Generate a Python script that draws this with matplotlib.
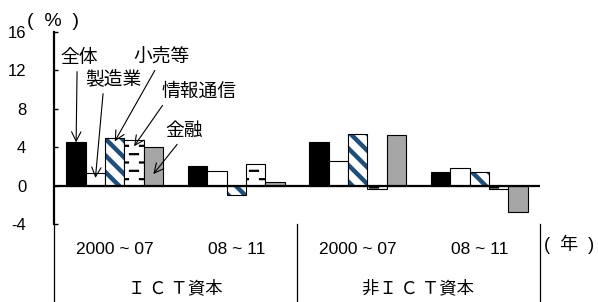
import numpy as np
import matplotlib
matplotlib.use("Agg")
import matplotlib.pyplot as plt
from matplotlib import hatch as mhatch
from matplotlib.path import Path
from matplotlib.transforms import blended_transform_factory

# ==========================================
# data
# ==========================================
periods = ["2000～07", "08～11", "2000～07", "08～11"]
groups = ["Ｉ Ｃ Ｔ資本", "非Ｉ Ｃ Ｔ資本"]
series = ["全体", "製造業", "小売等", "情報通信", "金融"]

zentai = [4.5, 2.0, 4.5, 1.4]
seizo = [1.3, 1.55, 2.6, 1.8]
kouri = [5.0, -0.95, 5.4, 1.4]
johotsushin = [4.75, 2.3, -0.4, -0.4]
kinyu = [4.0, 0.35, 5.25, -2.7]

yticks = [-4, 0, 4, 8, 12, 16]

# where each label's arrow ends (on the first group)
arrow_tip = [4.5, 0.8, 4.6, 4.1, 1.2]
# ==========================================


# short staggered dashes, used in place of the plain "-" hatch
class DashHatch(mhatch.HatchPatternBase):
    rows = 12
    per_row = 5

    def __init__(self, hatch, density):
        n = hatch.count("-")
        self.num_vertices = 2 * self.rows * self.per_row if n else 0

    def set_vertices_and_codes(self, vertices, codes):
        k = 0
        step = 1.0 / self.per_row
        for r in range(self.rows):
            y = (r + 0.5) / self.rows
            off = 0.5 * step * (r % 2)
            for c in range(self.per_row):
                x0 = c * step + off
                vertices[k] = (x0, y)
                vertices[k + 1] = (x0 + 0.4 * step, y)
                codes[k] = Path.MOVETO
                codes[k + 1] = Path.LINETO
                k += 2


mhatch._hatch_types = [DashHatch if t is mhatch.HorizontalHatch else t
                       for t in mhatch._hatch_types]

plt.rcParams["font.family"] = ["Liberation Sans", "Noto Sans CJK JP", "DejaVu Sans"]
jp = ["Noto Sans CJK JP", "DejaVu Sans"]

fig = plt.figure(figsize=(5.98, 3.02), dpi=100)
ax = fig.add_axes([54 / 598, 78 / 302, 486 / 598, 192 / 302])

x = np.arange(len(periods)) + 0.5
w = 0.159
navy = "#1f4e79"

ax.bar(x - 2 * w, zentai, w, color="black", edgecolor="black", lw=0.8)
ax.bar(x - w, seizo, w, color="white", edgecolor="black", lw=0.8)
with plt.rc_context({"hatch.linewidth": 3.2}):
    ax.bar(x, kouri, w, color="white", edgecolor=navy, hatch="\\\\", lw=0)
ax.bar(x, kouri, w, fill=False, edgecolor="black", lw=0.8)
with plt.rc_context({"hatch.linewidth": 1.6}):
    ax.bar(x + w, johotsushin, w, color="white", edgecolor="black", hatch="-", lw=0.8)
ax.bar(x + 2 * w, kinyu, w, color="#a6a6a6", edgecolor="black", lw=0.8)

ax.axhline(0, color="black", lw=1.6, zorder=5)

ax.set_xlim(0, len(periods))
ax.set_ylim(-4, 16)
ax.set_yticks(yticks)
ax.set_yticklabels([str(t) for t in yticks], fontsize=12)
ax.tick_params(axis="y", direction="in", length=3, width=1, pad=20)
ax.set_xticks([])
for s in ["top", "right", "bottom"]:
    ax.spines[s].set_visible(False)
ax.spines["left"].set_linewidth(1.6)

# divider lines and category labels below the plot
tr = blended_transform_factory(ax.transData, ax.transAxes)
for xd in [0, 2, 4]:
    ax.plot([xd, xd], [0, -0.41], transform=tr, color="black", lw=0.9, clip_on=False)
for xi, p in zip(x, periods):
    ax.text(xi, -0.135, p.replace("～", " ~ "), transform=tr, ha="center", va="center", fontsize=12.5)
for i, g in enumerate(groups):
    ax.text(2 * i + 1, -0.335, g, transform=tr,
            ha="center", va="center", fontsize=12.5, family=jp)

fig.text(53 / 598, 1 - 22 / 302, "(  %  )", ha="center", va="center", fontsize=14)
fig.text(569 / 598, 1 - 244 / 302, "(  年  )", ha="center", va="center", fontsize=13)

# labels with arrows pointing at the first group of bars
label_pos = [(79, 57), (113, 79), (161, 56), (199, 91), (184, 130)]
relx = [0.45, 0.33, 0.43, 0.05, 0.4]
for i, name in enumerate(series):
    px, py = label_pos[i]
    ax.annotate(name, xy=(x[0] + (i - 2) * w, arrow_tip[i]), xycoords="data",
                xytext=(px, 302 - py), textcoords="figure pixels",
                ha="center", va="center", fontsize=13.5, family=jp,
                arrowprops=dict(arrowstyle="->,head_length=0.5,head_width=0.25",
                                color="black", lw=0.8,
                                shrinkA=1, shrinkB=0, relpos=(relx[i], 0)))

fig.savefig("out.png", dpi=100)
